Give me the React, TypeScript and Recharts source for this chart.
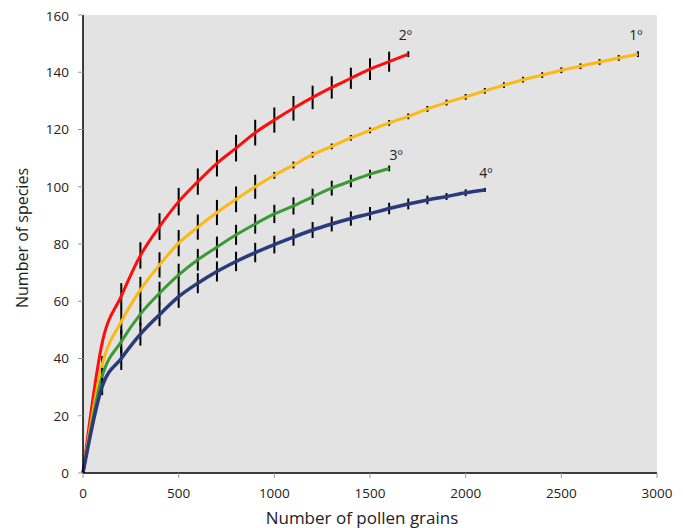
import React from 'react';
import { LineChart, Line, XAxis, YAxis, CartesianGrid, ErrorBar } from 'recharts';

// Number of pollen grains counted (sample points)
const grains = [
  0, 100, 200, 300, 400, 500, 600, 700, 800, 900,
  1000, 1100, 1200, 1300, 1400, 1500, 1600, 1700, 1800, 1900,
  2000, 2100, 2200, 2300, 2400, 2500, 2600, 2700, 2800, 2900,
];

const seriesLabels = ['1º', '2º', '3º', '4º'];

// 1º (yellow)
const firstValues = [
  0, 37.8, 52.9, 64, 72.7, 80.3, 85.9, 91, 95.6, 100,
  104, 107.6, 111.2, 114.1, 117.1, 119.7, 122.3, 124.6, 127.2, 129.4,
  131.4, 133.5, 135.5, 137.4, 139, 140.7, 142.1, 143.6, 145, 146.3,
];
const firstErrors = [
  0, 3, 4.5, 4.5, 4.4, 4.6, 4.4, 4.4, 4.5, 4.2,
  1.2, 1.2, 1, 1, 1, 1, 1, 1, 1, 1,
  1, 1, 1, 1, 1, 1, 1, 1, 1, 1,
];

// 2º (red)
const secondValues = [
  0, 45.4, 61.8, 76, 86.1, 94.8, 101.8, 108.2, 113.5, 118.9,
  123.3, 127.4, 131.2, 134.7, 137.9, 141.1, 143.7, 146.3,
];
const secondErrors = [
  0, 1, 4.5, 4.6, 4.65, 4.8, 4.6, 4.6, 4.65, 4.5,
  4.4, 4.3, 4.1, 3.9, 3.7, 3.8, 3.5, 1,
];

// 3º (green)
const thirdValues = [
  0, 33.7, 45.9, 55.5, 62.8, 69.2, 74.5, 78.9, 83.2, 87,
  90.5, 93.3, 96.5, 99.5, 102, 104.4, 106.4,
];
const thirdErrors = [
  0, 3, 4, 4, 4, 3.9, 3.8, 3.7, 3.5, 3.4,
  3.2, 3, 2.8, 2.6, 2.2, 1.5, 1,
];

// 4º (navy)
const fourthValues = [
  0, 30.2, 40, 48.5, 55.3, 61.6, 66.3, 70.4, 73.9, 77,
  79.8, 82.4, 84.9, 87, 88.9, 90.6, 92.4, 94, 95.4, 96.6,
  97.9, 98.9,
];
const fourthErrors = [
  0, 3, 4, 4, 4, 3.9, 3.5, 3.5, 3.4, 3.4,
  3.1, 3, 2.8, 2.6, 2.5, 2.3, 2, 1.9, 1.5, 1.2,
  1.2, 0.7,
];

const xTicks = [0, 500, 1000, 1500, 2000, 2500, 3000];
const yTicks = [0, 20, 40, 60, 80, 100, 120, 140, 160];

const build = (values: number[], errors: number[]) =>
  values.map((v, i) => ({ grains: grains[i], species: v, err: errors[i] }));

const firstData = build(firstValues, firstErrors);
const secondData = build(secondValues, secondErrors);
const thirdData = build(thirdValues, thirdErrors);
const fourthData = build(fourthValues, fourthErrors);

const FONT = '"Open Sans", sans-serif';

const makeEndLabel = (text: string, lastIndex: number, dx: number, dy: number) => (props: any) => {
  if (props.index !== lastIndex) return <g />;
  return (
    <text
      x={props.x + dx}
      y={props.y + dy}
      textAnchor="middle"
      fontFamily={FONT}
      fontSize={14}
      fill="#222"
    >
      {text}
    </text>
  );
};

export default function App() {
  return (
    <LineChart width={675} height={520} margin={{ top: 7, right: 26, left: 0, bottom: 0 }}>
      <CartesianGrid horizontal={false} vertical={false} fill="#e3e3e3" fillOpacity={1} />
      <XAxis
        type="number"
        dataKey="grains"
        domain={[0, 3000]}
        ticks={xTicks}
        tickSize={5}
        tickMargin={10}
        height={55}
        tick={{ fill: '#222', fontSize: 13.5, fontFamily: FONT }}
        tickLine={{ stroke: '#999' }}
        axisLine={{ stroke: '#000', strokeWidth: 1.5 }}
        label={{
          value: 'Number of pollen grains',
          position: 'insideBottom',
          offset: 4,
          dx: -8,
          fill: '#222',
          fontSize: 17,
          fontFamily: FONT,
        }}
      />
      <XAxis
        xAxisId="top"
        orientation="top"
        type="number"
        domain={[0, 3000]}
        height={0}
        tick={false}
        tickLine={false}
        axisLine={{ stroke: '#8a8a8a', strokeWidth: 1 }}
      />
      <YAxis
        type="number"
        domain={[0, 160]}
        ticks={yTicks}
        width={75}
        tickSize={5}
        tickMargin={9}
        tick={{ fill: '#222', fontSize: 13.5, fontFamily: FONT }}
        tickLine={{ stroke: '#999' }}
        axisLine={{ stroke: '#000', strokeWidth: 1.5 }}
        label={{
          content: (p: any) => {
            const vb = p.viewBox;
            const cx = vb.x + 14;
            const cy = vb.y + vb.height / 2 - 6;
            return (
              <text
                x={cx}
                y={cy}
                transform={`rotate(-90, ${cx}, ${cy})`}
                textAnchor="middle"
                dominantBaseline="central"
                fill="#222"
                fontSize={16}
                fontFamily={FONT}
              >
                Number of species
              </text>
            );
          },
        }}
      />
      <YAxis
        yAxisId="right"
        orientation="right"
        type="number"
        domain={[0, 160]}
        width={0}
        tick={false}
        tickLine={false}
        axisLine={{ stroke: '#8a8a8a', strokeWidth: 1 }}
      />
      <Line
        data={secondData}
        dataKey="species"
        type="monotone"
        stroke="#ff0d0d"
        strokeWidth={3}
        dot={false}
        isAnimationActive={false}
        label={makeEndLabel(seriesLabels[1], secondData.length - 1, -3, -14)}
      >
        <ErrorBar dataKey="err" width={0} stroke="#000" strokeWidth={2} direction="y" isAnimationActive={false} />
      </Line>
      <Line
        data={firstData}
        dataKey="species"
        type="monotone"
        stroke="#fdb913"
        strokeWidth={3}
        dot={false}
        isAnimationActive={false}
        label={makeEndLabel(seriesLabels[0], firstData.length - 1, -2, -14)}
      >
        <ErrorBar dataKey="err" width={0} stroke="#000" strokeWidth={2} direction="y" isAnimationActive={false} />
      </Line>
      <Line
        data={thirdData}
        dataKey="species"
        type="monotone"
        stroke="#3a9a35"
        strokeWidth={3}
        dot={false}
        isAnimationActive={false}
        label={makeEndLabel(seriesLabels[2], thirdData.length - 1, 7, -8)}
      >
        <ErrorBar dataKey="err" width={0} stroke="#000" strokeWidth={2} direction="y" isAnimationActive={false} />
      </Line>
      <Line
        data={fourthData}
        dataKey="species"
        type="monotone"
        stroke="#2b3a7c"
        strokeWidth={3.5}
        dot={false}
        isAnimationActive={false}
        label={makeEndLabel(seriesLabels[3], fourthData.length - 1, 1, -12)}
      >
        <ErrorBar dataKey="err" width={0} stroke="#000" strokeWidth={2} direction="y" isAnimationActive={false} />
      </Line>
    </LineChart>
  );
}
